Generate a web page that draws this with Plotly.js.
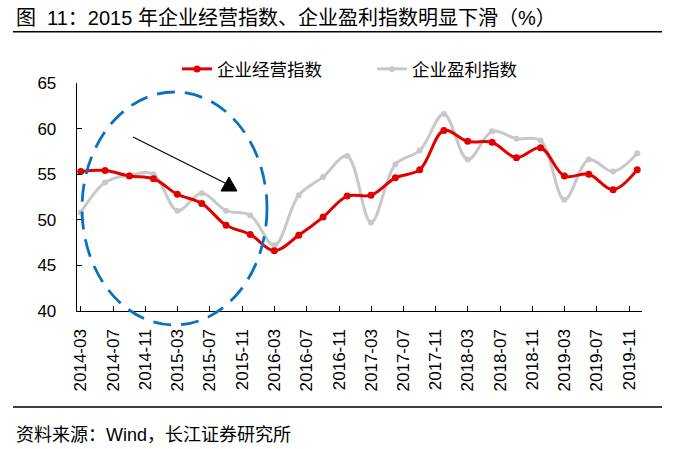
<!DOCTYPE html>
<html>
<head>
<meta charset="utf-8">
<script src="https://cdn.plot.ly/plotly-3.0.1.min.js"></script>
<style>html,body{margin:0;padding:0;background:#fff;}#chart{width:684px;height:449px;}</style>
</head>
<body>
<div id="chart"></div>
<script>
// ---- data ----
var quarters = ['2014-03','2014-06','2014-09','2014-12','2015-03','2015-06','2015-09','2015-12',
                '2016-03','2016-06','2016-09','2016-12','2017-03','2017-06','2017-09','2017-12',
                '2018-03','2018-06','2018-09','2018-12','2019-03','2019-06','2019-09','2019-12'];
var operatingIndex = [55.3,55.4,54.8,54.5,52.8,51.8,49.4,48.4,46.6,48.3,50.3,52.6,
                      52.7,54.6,55.5,59.8,58.6,58.5,56.8,57.9,54.8,55.0,53.3,55.5];
var profitIndex = [50.8,54.1,54.9,55.0,51.0,52.9,51.0,50.5,47.2,52.7,54.7,57.0,
                   49.7,56.1,57.6,61.6,56.6,59.7,58.9,58.7,52.2,56.6,55.3,57.3];
var seriesNames = ['企业经营指数','企业盈利指数'];
var titleText = '图  11：2015 年企业经营指数、企业盈利指数明显下滑（%）';
var sourceText = '资料来源：Wind，长江证券研究所';

// ---- layout helpers (pixel -> paper) ----
var W = 684, H = 449, L = 77, R = 642, T = 83, B = 311;
function px(x){ return (x - L) / (R - L); }
function py(y){ return (B - y) / (B - T); }
var FONT = 'Liberation Sans, Arial, Noto Sans CJK SC, sans-serif';

var traces = [
  {x: quarters, y: operatingIndex, name: seriesNames[0], type: 'scatter', mode: 'lines+markers',
   line: {color: '#e00000', width: 3, shape: 'spline', smoothing: 1},
   marker: {color: '#e00000', size: 7}},
  {x: quarters, y: profitIndex, name: seriesNames[1], type: 'scatter', mode: 'lines+markers',
   line: {color: '#c8c8c8', width: 3, shape: 'spline', smoothing: 1},
   marker: {color: '#c8c8c8', size: 6}}
];
// put red on top
traces = [traces[1], traces[0]];

var layout = {
  width: W, height: H,
  margin: {l: L, r: W - R, t: T, b: H - B, pad: 0},
  paper_bgcolor: '#fff', plot_bgcolor: '#fff',
  font: {family: FONT, color: '#000', size: 17},
  showlegend: true,
  legend: {orientation: 'h', x: px(177), xanchor: 'left', y: py(69), yanchor: 'middle',
           traceorder: 'reversed', font: {size: 17.5, color: '#000'}, entrywidth: 150,
           bgcolor: 'rgba(0,0,0,0)'},
  xaxis: {type: 'date', range: ['2014-02-15', '2019-12-19'],
          tick0: '2014-03-01', dtick: 'M4', tickformat: '%Y-%m', tickangle: -90,
          ticks: 'inside', ticklen: 5, tickcolor: '#000', tickwidth: 1,
          showline: true, linecolor: '#000', linewidth: 1.3, showgrid: false, zeroline: false,
          ticklabelstandoff: 10, tickfont: {size: 17, color: '#000'}},
  yaxis: {range: [40, 65], dtick: 5, tick0: 40,
          ticks: 'inside', ticklen: 5, tickcolor: '#000', tickwidth: 1,
          showline: true, linecolor: '#000', linewidth: 1.3, showgrid: false, zeroline: false,
          ticklabelstandoff: 16, tickfont: {size: 17, color: '#000'}},
  shapes: [
    {type: 'line', xref: 'paper', yref: 'paper', x0: px(13), x1: px(662), y0: py(31.7), y1: py(31.7),
     line: {color: '#000', width: 1.5}},
    {type: 'line', xref: 'paper', yref: 'paper', x0: px(13), x1: px(662), y0: py(407), y1: py(407),
     line: {color: '#000', width: 1.5}},
    {type: 'circle', xref: 'paper', yref: 'paper', x0: px(82), x1: px(267), y0: py(325), y1: py(92),
     line: {color: '#0a70c0', width: 2.8, dash: '18px,10px'}},
    {type: 'line', xref: 'paper', yref: 'paper', x0: px(133), y0: py(137), x1: px(227), y1: py(184),
     line: {color: '#000', width: 1.2}},
    {type: 'path', xref: 'paper', yref: 'paper',
     path: 'M' + px(237) + ',' + py(191) + ' L' + px(229) + ',' + py(177) + ' L' + px(221) + ',' + py(191) + ' Z',
     fillcolor: '#000', line: {color: '#000', width: 1}}
  ],
  annotations: [
    {text: titleText, xref: 'paper', yref: 'paper', x: px(14), y: py(17.5), xanchor: 'left', yanchor: 'middle',
     showarrow: false, font: {size: 20, color: '#000', family: FONT}},
    {text: sourceText, xref: 'paper', yref: 'paper', x: px(14), y: py(435), xanchor: 'left', yanchor: 'middle',
     showarrow: false, font: {size: 18, color: '#000', family: FONT}}
  ]
};

Plotly.newPlot('chart', traces, layout, {displayModeBar: false, staticPlot: true});
</script>
</body>
</html>
